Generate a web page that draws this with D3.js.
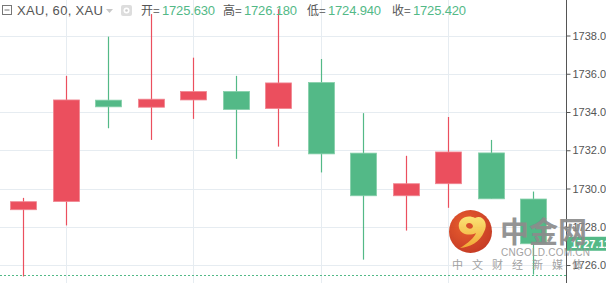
<!DOCTYPE html>
<html>
<head>
  <meta charset="utf-8">
  <title>XAU 60</title>
  <script src="https://d3js.org/d3.v7.min.js"></script>
  <style>
    body { margin: 0; background: #fff; }
    svg { display: block; font-family: "Liberation Sans", Arial, sans-serif; }
    .tick text { fill: #555; font-size: 11px; }
  </style>
</head>
<body>
  <svg id="chart" width="606" height="283"></svg>
  <script>
    // bar index, one per 60 minute candle
    var bars = [0, 1, 2, 3, 4, 5, 6, 7, 8, 9, 10, 11, 12];
    var opens  = [1728.89, 1729.32, 1734.62, 1734.25, 1734.63, 1735.07, 1734.18, 1735.54, 1731.85, 1729.62, 1730.25, 1731.86, 1729.45];
    var highs  = [1729.51, 1735.89, 1737.94, 1739.12, 1736.84, 1735.89, 1739.38, 1736.77, 1733.94, 1731.71, 1733.74, 1732.54, 1729.84];
    var lows   = [1725.40, 1728.07, 1733.15, 1732.54, 1733.64, 1731.55, 1732.19, 1730.84, 1726.28, 1727.80, 1728.99, 1729.46, 1725.50];
    var closes = [1729.31, 1734.63, 1734.27, 1734.67, 1735.07, 1734.13, 1735.52, 1731.81, 1729.62, 1730.25, 1731.91, 1729.46, 1727.11];
    var yTicks = [1726, 1728, 1730, 1732, 1734, 1736, 1738];
    var vGridBars = [1, 4, 7, 10];
    var lastPrice = 1727.11;
    var dashLevel = 1725.5;
    var header = [
      {label: "开=", value: "1725.630"},
      {label: "高=", value: "1726.180"},
      {label: "低=", value: "1724.940"},
      {label: "收=", value: "1725.420"}
    ];

    var up = "#eb4f5e", down = "#53b987";
    var axisX = 566;
    var W = 606, H = 283;

    var svg = d3.select("#chart");

    var x = d3.scalePoint().domain(bars).range([23, 533]);
    var y = d3.scaleLinear().domain([1726, 1738]).range([265, 35.5]);
    var bodyW = 26;

    // grid
    svg.append("g").selectAll("line")
      .data(yTicks).enter().append("line")
      .attr("x1", 0).attr("x2", axisX)
      .attr("y1", d => Math.round(y(d)) + 0.5).attr("y2", d => Math.round(y(d)) + 0.5)
      .attr("stroke", "#e6ecf1");
    svg.append("g").selectAll("line")
      .data(vGridBars).enter().append("line")
      .attr("x1", d => Math.round(x(d)) + 0.5).attr("x2", d => Math.round(x(d)) + 0.5)
      .attr("y1", 0).attr("y2", H)
      .attr("stroke", "#e6ecf1");

    // candles
    var candles = bars.map(i => ({i: i, o: opens[i], h: highs[i], l: lows[i], c: closes[i]}));
    var g = svg.append("g");
    g.selectAll(".wick")
      .data(candles).enter().append("line")
      .attr("class", "wick")
      .attr("x1", d => Math.round(x(d.i)) + 0.5).attr("x2", d => Math.round(x(d.i)) + 0.5)
      .attr("y1", d => y(d.h)).attr("y2", d => y(d.l))
      .attr("stroke", d => d.c >= d.o ? up : down)
      .attr("stroke-width", 1.2);
    g.selectAll(".body")
      .data(candles).enter().append("rect")
      .attr("class", "body")
      .attr("x", d => Math.round(x(d.i)) - bodyW / 2 + 0.5)
      .attr("width", bodyW)
      .attr("y", d => y(Math.max(d.o, d.c)))
      .attr("height", d => Math.max(1, y(Math.min(d.o, d.c)) - y(Math.max(d.o, d.c))))
      .attr("fill", d => d.c >= d.o ? up : down)
      .attr("stroke", d => d.c >= d.o ? "#f08591" : "#86cfaa")
      .attr("stroke-width", 0.8);

    // dashed level line
    svg.append("line")
      .attr("x1", 0).attr("x2", axisX)
      .attr("y1", Math.round(y(dashLevel)) + 0.5).attr("y2", Math.round(y(dashLevel)) + 0.5)
      .attr("stroke", down).attr("stroke-dasharray", "2,2");

    // right axis
    var axis = svg.append("g")
      .attr("transform", "translate(" + (axisX + 0.5) + ",0)")
      .call(d3.axisRight(y).tickValues(yTicks).tickFormat(d3.format(".3f")).tickSize(4).tickPadding(2));
    axis.select(".domain").remove();
    axis.selectAll(".tick line").attr("stroke", "#555");
    svg.append("line")
      .attr("x1", axisX + 0.5).attr("x2", axisX + 0.5)
      .attr("y1", 0).attr("y2", H)
      .attr("stroke", "#555");

    // last price label
    var ly = y(lastPrice);
    svg.append("rect")
      .attr("x", axisX + 1).attr("y", ly - 7).attr("width", W - axisX).attr("height", 14)
      .attr("fill", down);
    svg.append("text")
      .attr("x", axisX + 5).attr("y", ly + 4)
      .attr("fill", "#fff").attr("font-size", 11).attr("font-weight", "bold")
      .text(d3.format(".3f")(lastPrice));

    // watermark
    var wm = svg.append("g").attr("opacity", 0.92);
    var grad = svg.append("defs");
    var rg = grad.append("radialGradient").attr("id", "logoRed").attr("cx", "40%").attr("cy", "35%").attr("r", "70%");
    rg.append("stop").attr("offset", "0%").attr("stop-color", "#e9531f");
    rg.append("stop").attr("offset", "100%").attr("stop-color", "#c02a12");
    var yg = grad.append("linearGradient").attr("id", "logoGold").attr("x1", 0).attr("y1", 0).attr("x2", 0).attr("y2", 1);
    yg.append("stop").attr("offset", "0%").attr("stop-color", "#fbe26a");
    yg.append("stop").attr("offset", "100%").attr("stop-color", "#f1a024");
    wm.append("circle").attr("cx", 470.5).attr("cy", 231.5).attr("r", 21.5).attr("fill", "url(#logoRed)");
    wm.append("path")
      .attr("d", "M459,228 C457,218 468,214 475,218 C483,214 489,224 484,232 C480,242 470,247 460,248 C468,243 474,238 476,233 C470,236 461,235 459,228 Z")
      .attr("fill", "url(#logoGold)");
    wm.append("path")
      .attr("d", "M466,226 C466,222 472,222 473,226 C473,229 468,230 466,226 Z")
      .attr("fill", "#d5421b");
    wm.append("text")
      .attr("x", 500).attr("y", 243)
      .attr("font-family", "'Noto Sans CJK SC', sans-serif").attr("font-weight", "bold")
      .attr("font-size", 29).attr("fill", "#8c8c8c")
      .text("中金网");
    wm.append("text")
      .attr("x", 501).attr("y", 256)
      .attr("font-size", 10).attr("fill", "#9a9a9a").attr("textLength", 89)
      .text("CNGOLD.COM.CN");
    wm.append("text")
      .attr("x", 452).attr("y", 269)
      .attr("font-family", "'Noto Sans CJK SC', sans-serif")
      .attr("font-size", 11).attr("fill", "#9a9a9a").attr("letter-spacing", "9px")
      .text("中文财经新媒体");

    // header
    var hd = svg.append("g").attr("font-size", 13);
    hd.append("rect").attr("x", 2.5).attr("y", 5.5).attr("width", 9).attr("height", 9)
      .attr("fill", "none").attr("stroke", "#777");
    hd.append("line").attr("x1", 4.5).attr("x2", 9.5).attr("y1", 10).attr("y2", 10).attr("stroke", "#777");
    hd.append("text").attr("x", 17).attr("y", 15).attr("fill", "#555")
      .attr("textLength", 86).text("XAU, 60, XAU");
    hd.append("path").attr("d", "M106,9 L113,9 L109.5,13 Z").attr("fill", "#c8c8c8");
    hd.append("rect").attr("x", 121).attr("y", 5).attr("width", 11).attr("height", 11).attr("rx", 2).attr("fill", "#ddd");
    hd.append("circle").attr("cx", 126.5).attr("cy", 10.5).attr("r", 3).attr("fill", "#fff");
    hd.append("circle").attr("cx", 126.5).attr("cy", 10.5).attr("r", 1.3).attr("fill", "#ccc");
    var hx = [141, 223, 307, 392];
    header.forEach(function(h, k) {
      hd.append("text").attr("x", hx[k]).attr("y", 15).attr("fill", "#555")
        .attr("font-family", "'Noto Sans CJK SC', sans-serif").attr("font-size", 12)
        .text(h.label);
      hd.append("text").attr("x", hx[k] + 21).attr("y", 15).attr("fill", "#53b987")
        .attr("textLength", 53).text(h.value);
    });
  </script>
</body>
</html>
